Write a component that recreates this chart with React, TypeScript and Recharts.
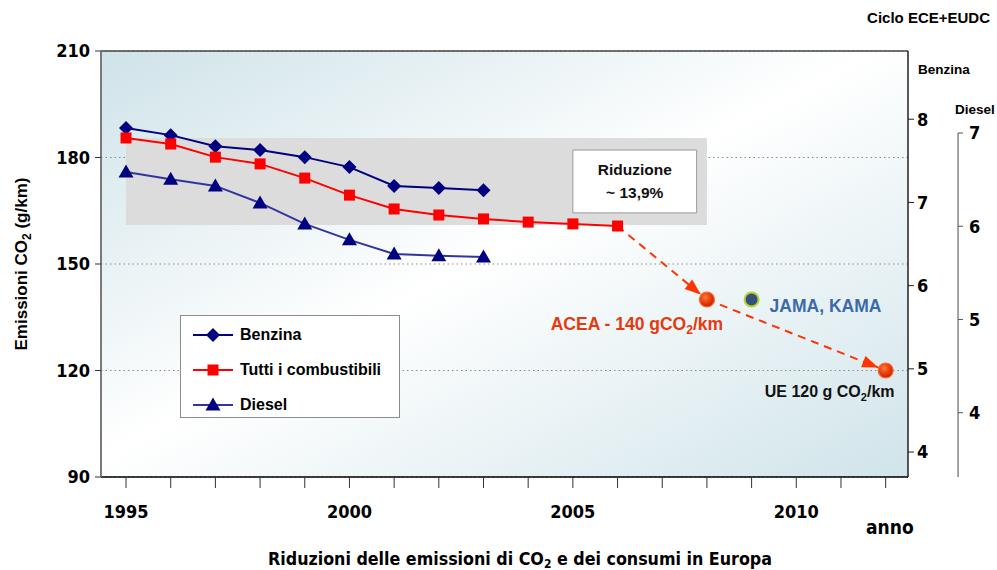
import React from 'react';
import {
  ComposedChart,
  Line,
  Scatter,
  XAxis,
  YAxis,
  CartesianGrid,
  ReferenceArea,
  ReferenceLine,
  Legend,
} from 'recharts';

const years = [1995, 1996, 1997, 1998, 1999, 2000, 2001, 2002, 2003, 2004, 2005, 2006];
const benzinaValues = [188.3, 186.3, 183.2, 182.1, 180.1, 177.3, 172.0, 171.4, 170.8];
const tuttiValues = [185.5, 183.8, 180.1, 178.2, 174.2, 169.4, 165.5, 163.8, 162.7, 161.8, 161.3, 160.7];
const dieselValues = [175.9, 173.9, 172.0, 167.2, 161.3, 156.8, 152.8, 152.3, 152.0];

const projectionYears = [2006, 2008, 2012];
const projectionValues = [160.7, 140, 120];

const targetNames = ['ACEA', 'JAMA', 'UE'];
const targetYears = [2008, 2009, 2012];
const targetValues = [140, 140, 120];

const seriesNames = ['Benzina', 'Tutti i combustibili', 'Diesel'];

const yearTicks = [1995, 1996, 1997, 1998, 1999, 2000, 2001, 2002, 2003, 2004, 2005, 2006, 2007, 2008, 2009, 2010, 2011, 2012];
const co2Ticks = [90, 120, 150, 180, 210];
const benzinaTicks = [4, 5, 6, 7, 8];
const dieselTicks = [4, 5, 6, 7];

const NARROW = "'Liberation Sans Narrow', 'DejaVu Sans Condensed', 'Liberation Sans', Arial, sans-serif";
const SANS = "'Liberation Sans', Arial, sans-serif";

const NAVY = '#000080';
const RED = '#ff0000';
const DIESEL_LINE = '#3434a0';
const ORANGE = '#ff3300';

const toSeries = (vals: number[], xs: number[]) => vals.map((v, i) => ({ year: xs[i], value: v }));

const benzina = toSeries(benzinaValues, years);
const tutti = toSeries(tuttiValues, years);
const diesel = toSeries(dieselValues, years);
const projection = toSeries(projectionValues, projectionYears);
const seg1 = projection.slice(0, 2);
const seg2 = projection.slice(1);
const targets = targetValues.map((v, i) => ({ year: targetYears[i], value: v, name: targetNames[i] }));

const diamond = (cx: number, cy: number, key?: any) => (
  <polygon key={key} points={`${cx},${cy - 7} ${cx + 7},${cy} ${cx},${cy + 7} ${cx - 7},${cy}`} fill={NAVY} />
);
const square = (cx: number, cy: number, key?: any) => (
  <rect key={key} x={cx - 5.5} y={cy - 5.5} width={11} height={11} fill={RED} />
);
const triangle = (cx: number, cy: number, key?: any) => (
  <polygon key={key} points={`${cx},${cy - 7.5} ${cx + 7.5},${cy + 5.5} ${cx - 7.5},${cy + 5.5}`} fill={NAVY} />
);

const dotOf = (fn: any, prefix: string) => (p: any) => {
  if (p.cx == null || p.cy == null) return <g key={`${prefix}-${p.index}`} />;
  return fn(p.cx, p.cy, `${prefix}-${p.index}`);
};

const legendShapes: Record<string, any> = { Benzina: diamond, 'Tutti i combustibili': square, Diesel: triangle };

const renderLegend = ({ payload }: any) => {
  const items = seriesNames
    .map((name) => (payload || []).find((e: any) => e.value === name))
    .filter(Boolean);
  return (
    <div
      style={{
        width: 220,
        height: 103,
        border: '1px solid #8c8c8c',
        background: '#fff',
        boxSizing: 'border-box',
        padding: '1px 0 0 12px',
        fontFamily: SANS,
      }}
    >
      {items.map((entry: any) => (
        <div key={entry.value} style={{ display: 'flex', alignItems: 'center', height: 35 }}>
          <svg width={44} height={16}>
            <line x1={0} y1={8} x2={40} y2={8} stroke={entry.color} strokeWidth={2} />
            {legendShapes[entry.value](20, 8)}
          </svg>
          <span style={{ fontSize: 16, fontWeight: 700, color: '#000', marginLeft: 3 }}>{entry.value}</span>
        </div>
      ))}
    </div>
  );
};

const targetLabelPos: Record<string, { dx: number; dy: number; anchor: string; color: string; size: number }> = {
  ACEA: { dx: -70, dy: 30, anchor: 'middle', color: '#e8380d', size: 17.5 },
  JAMA: { dx: 18, dy: 12, anchor: 'start', color: '#3b6aa8', size: 17.5 },
  UE: { dx: -56, dy: 26, anchor: 'middle', color: '#111', size: 16 },
};

const targetText = (name: string) => {
  if (name === 'ACEA')
    return (
      <>
        ACEA - 140 gCO<tspan fontSize={12} dy={4}>2</tspan>
        <tspan dy={-4}>/km</tspan>
      </>
    );
  if (name === 'UE')
    return (
      <>
        UE 120 g CO<tspan fontSize={11} dy={4}>2</tspan>
        <tspan dy={-4}>/km</tspan>
      </>
    );
  return <>JAMA, KAMA</>;
};

const TargetShape = (props: any) => {
  const { cx, cy, payload } = props;
  if (cx == null || cy == null) return null;
  const pos = targetLabelPos[payload.name];
  const isJama = payload.name === 'JAMA';
  return (
    <g>
      {isJama ? (
        <circle cx={cx} cy={cy} r={7} fill="#34507e" stroke="#b5d334" strokeWidth={2} />
      ) : (
        <circle cx={cx} cy={cy} r={7.5} fill="url(#sphere)" stroke="#ff6a3a" strokeWidth={1.2} />
      )}
      <text
        x={cx + pos.dx}
        y={cy + pos.dy}
        textAnchor={pos.anchor as any}
        fontSize={pos.size}
        fontWeight={700}
        fontFamily={SANS}
        fill={pos.color}
      >
        {targetText(payload.name)}
      </text>
    </g>
  );
};

const RiduzioneLabel = (props: any) => {
  const vb = props.viewBox || {};
  const cx = vb.x + vb.width / 2;
  const cy = vb.y + vb.height / 2;
  return (
    <g fontFamily={SANS} fontWeight={700} fontSize={15.5} fill="#111">
      <text x={cx} y={cy - 6} textAnchor="middle">Riduzione</text>
      <text x={cx} y={cy + 17} textAnchor="middle">~ 13,9%</text>
    </g>
  );
};

const AxisTitle = (props: any) => {
  const vb = props.viewBox || { x: 0, y: 0, width: 0, height: 0 };
  const x = 27;
  const y = vb.y + vb.height / 2;
  return (
    <text
      x={x}
      y={y}
      transform={`rotate(-90 ${x} ${y})`}
      textAnchor="middle"
      fontFamily={SANS}
      fontWeight={700}
      fontSize={17}
      fill="#000"
    >
      Emissioni CO<tspan fontSize={12} dy={4}>2</tspan>
      <tspan dy={-4}> (g/km)</tspan>
    </text>
  );
};

const tickStyle = { fontSize: 18, fontWeight: 700, fill: '#000', fontFamily: NARROW };

const overlay = (style: React.CSSProperties, text: React.ReactNode) => (
  <div style={{ position: 'absolute', fontFamily: SANS, fontWeight: 700, color: '#000', whiteSpace: 'nowrap', ...style }}>
    {text}
  </div>
);

export default function App() {
  return (
    <div style={{ position: 'absolute', left: 0, top: 0, width: 997, height: 570, background: '#fff' }}>
      <svg width={0} height={0} style={{ position: 'absolute' }}>
        <defs>
          <linearGradient id="plotBg" x1="0" y1="0" x2="1" y2="1">
            <stop offset="0%" stopColor="#cfe3e9" />
            <stop offset="48%" stopColor="#ffffff" />
            <stop offset="100%" stopColor="#d0e4ea" />
          </linearGradient>
          <radialGradient id="sphere" cx="40%" cy="35%" r="65%">
            <stop offset="0%" stopColor="#ff7a3c" />
            <stop offset="60%" stopColor="#e83a08" />
            <stop offset="100%" stopColor="#c22400" />
          </radialGradient>
          <marker
            id="arrowHead"
            viewBox="0 0 16 12"
            refX={24}
            refY={6}
            markerWidth={16}
            markerHeight={12}
            markerUnits="userSpaceOnUse"
            orient="auto"
            style={{ overflow: 'visible' }}
          >
            <path d="M0,0 L16,6 L0,12 z" fill={ORANGE} />
          </marker>
        </defs>
      </svg>

      <ComposedChart
        width={997}
        height={570}
        margin={{ top: 51, right: 0, bottom: 0, left: 0 }}
        style={{ fontFamily: SANS }}
      >
        <CartesianGrid
          yAxisId="left"
          vertical={false}
          fill="url(#plotBg)"
          stroke="#8a8a8a"
          strokeDasharray="1.5 3"
        />
        <XAxis
          type="number"
          dataKey="year"
          domain={[1994.44, 2012.5]}
          ticks={yearTicks}
          interval={0}
          allowDataOverflow
          tickFormatter={(v: number) => (v % 5 === 0 ? String(v) : '')}
          tick={tickStyle}
          tickSize={11}
          tickMargin={17}
          height={93}
          axisLine={{ stroke: '#000', strokeWidth: 1.5 }}
          tickLine={{ stroke: '#333' }}
        />
        <YAxis
          yAxisId="left"
          type="number"
          domain={[90, 210]}
          ticks={co2Ticks}
          width={101}
          tick={tickStyle}
          tickSize={6}
          tickMargin={5}
          axisLine={{ stroke: '#7a7a7a', strokeWidth: 2 }}
          tickLine={{ stroke: '#333' }}
          label={<AxisTitle />}
        />
        <YAxis
          yAxisId="benzina"
          orientation="right"
          type="number"
          domain={[3.7, 8.82]}
          ticks={benzinaTicks}
          allowDataOverflow
          width={50}
          tick={tickStyle}
          tickSize={6}
          tickMargin={3}
          axisLine={{ stroke: '#222', strokeWidth: 1.5 }}
          tickLine={{ stroke: '#222' }}
        />
        <YAxis
          yAxisId="diesel"
          orientation="right"
          type="number"
          domain={[3.31, 7.88]}
          ticks={dieselTicks}
          allowDataOverflow
          width={39}
          tick={tickStyle}
          tickSize={5}
          tickMargin={6}
          axisLine={false}
          tickLine={{ stroke: '#555' }}
        />

        <ReferenceLine yAxisId="left" y={210} stroke="#444" strokeWidth={1.5} />
        <ReferenceLine
          yAxisId="diesel"
          segment={[{ x: 2013.62, y: 7 }, { x: 2013.62, y: 3.31 }]}
          ifOverflow="visible"
          stroke="#666"
          strokeWidth={1.2}
        />

        <ReferenceArea yAxisId="left" x1={1995} x2={2008} y1={161} y2={185.5} fill="#dcdcdc" fillOpacity={1} stroke="none" />
        <ReferenceArea
          yAxisId="left"
          x1={2005}
          x2={2007.77}
          y1={164.4}
          y2={182.1}
          fill="#fff"
          fillOpacity={1}
          stroke="#999"
          strokeWidth={1}
          label={<RiduzioneLabel />}
        />

        <Line
          yAxisId="left"
          data={seg1}
          dataKey="value"
          stroke={ORANGE}
          strokeWidth={2}
          strokeDasharray="8 6"
          dot={false}
          legendType="none"
          markerEnd="url(#arrowHead)"
          isAnimationActive={false}
        />
        <Line
          yAxisId="left"
          data={seg2}
          dataKey="value"
          stroke={ORANGE}
          strokeWidth={2}
          strokeDasharray="8 6"
          dot={false}
          legendType="none"
          markerEnd="url(#arrowHead)"
          isAnimationActive={false}
        />

        <Line
          yAxisId="left"
          name="Benzina"
          data={benzina}
          dataKey="value"
          stroke={NAVY}
          strokeWidth={2}
          dot={dotOf(diamond, 'b')}
          isAnimationActive={false}
        />
        <Line
          yAxisId="left"
          name="Tutti i combustibili"
          data={tutti}
          dataKey="value"
          stroke={RED}
          strokeWidth={2}
          dot={dotOf(square, 't')}
          isAnimationActive={false}
        />
        <Line
          yAxisId="left"
          name="Diesel"
          data={diesel}
          dataKey="value"
          stroke={DIESEL_LINE}
          strokeWidth={2}
          dot={dotOf(triangle, 'd')}
          isAnimationActive={false}
        />

        <Scatter
          yAxisId="left"
          data={targets}
          dataKey="value"
          shape={<TargetShape />}
          legendType="none"
          isAnimationActive={false}
        />

        <Legend
          layout="vertical"
          verticalAlign="middle"
          align="center"
          content={renderLegend}
          wrapperStyle={{ left: 180, top: 315, width: 220, bottom: 'auto' }}
        />
      </ComposedChart>

      {overlay({ right: 7, top: 9, fontSize: 15 }, 'Ciclo ECE+EUDC')}
      {overlay({ left: 918, top: 62, fontSize: 13.5 }, 'Benzina')}
      {overlay({ left: 955, top: 102, fontSize: 13.5 }, 'Diesel')}
      {overlay({ left: 866, top: 516, fontSize: 19, fontFamily: NARROW }, 'anno')}
      {overlay(
        { left: 0, width: 1040, textAlign: 'center', top: 549, fontSize: 17.7, fontFamily: NARROW },
        <>
          Riduzioni delle emissioni di CO<sub style={{ fontSize: 12, verticalAlign: '-3px' }}>2</sub> e dei consumi in Europa
        </>
      )}
    </div>
  );
}
